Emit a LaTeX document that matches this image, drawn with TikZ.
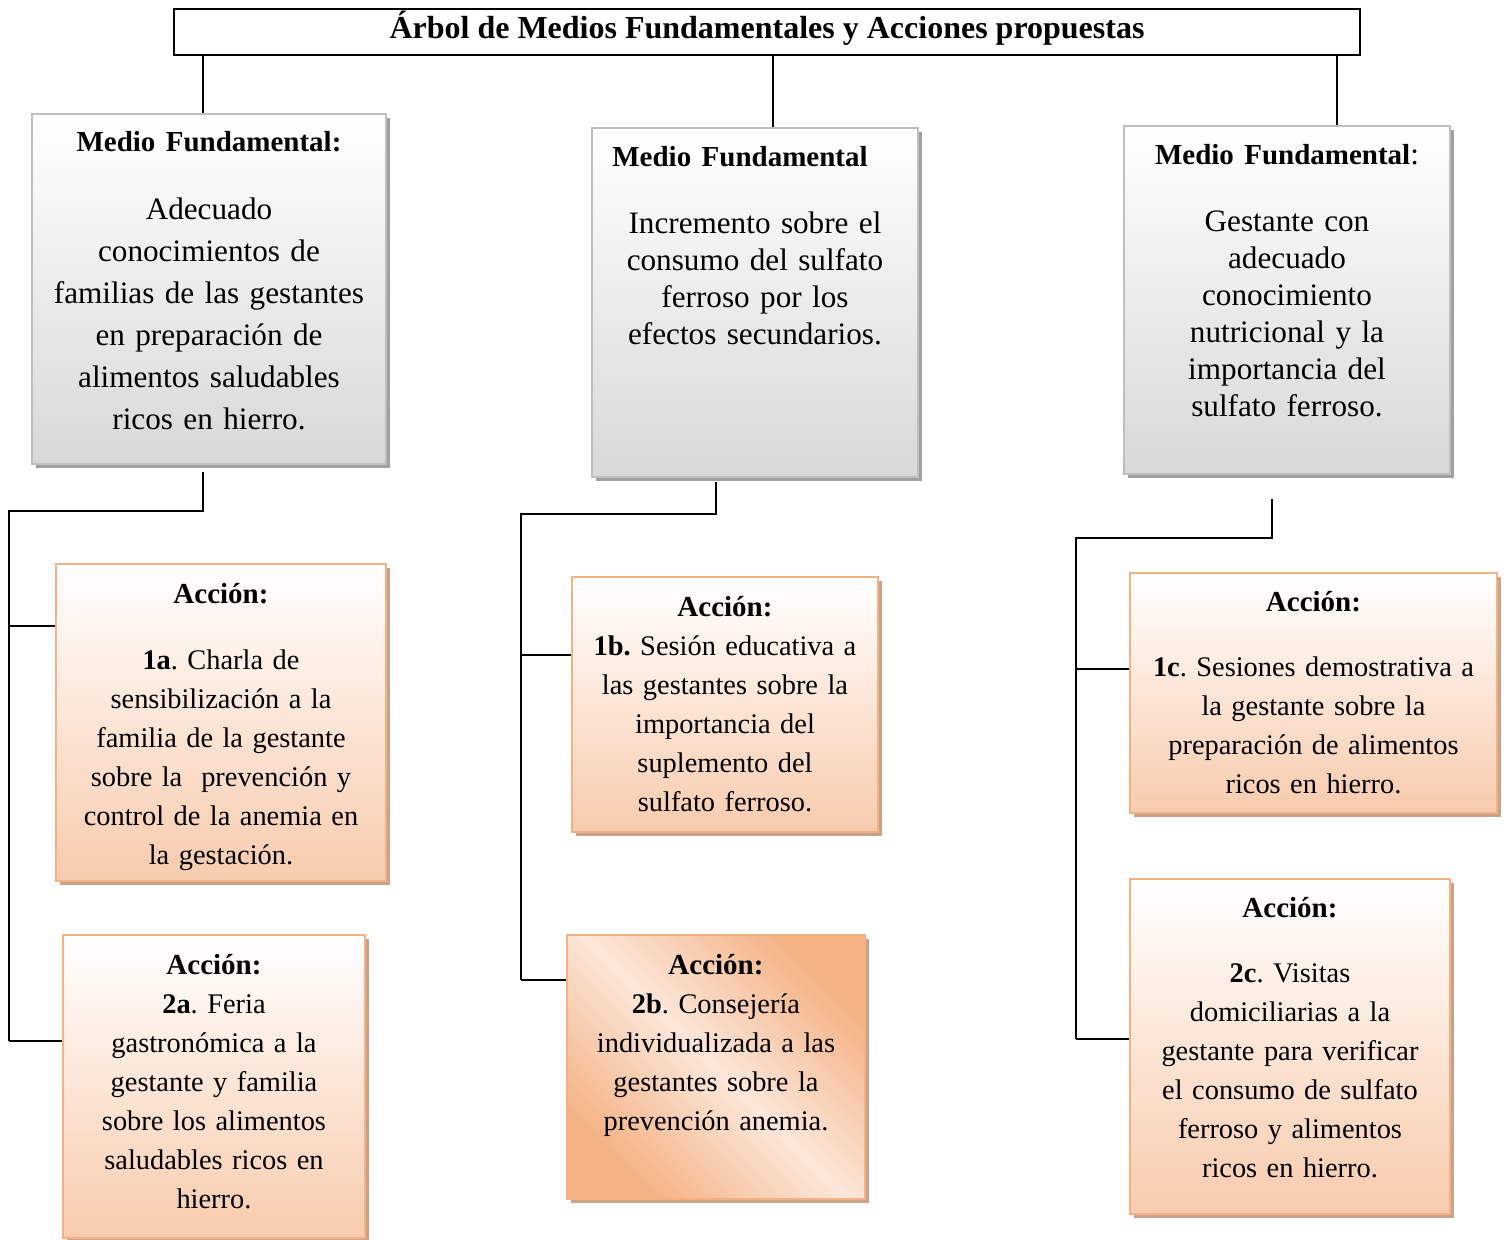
\documentclass[tikz,border=0pt]{standalone}
\usepackage{fontspec}
\setmainfont{Liberation Serif}
\usetikzlibrary{positioning, calc, shadows}
\frenchspacing

\definecolor{grisborde}{RGB}{191,191,191}
\definecolor{grisfondo}{RGB}{216,216,216}
\definecolor{grissombra}{RGB}{160,160,160}
\definecolor{naranjaborde}{RGB}{244,177,131}
\definecolor{naranjafondo}{RGB}{248,203,173}
\definecolor{naranjaclaro}{RGB}{252,231,218}
\definecolor{naranjasombra}{RGB}{200,162,138}

\newcommand{\titcaja}[1]{{\fontsize{14.5}{18}\selectfont\bfseries #1}}

\begin{document}
\begin{tikzpicture}[
    x=0.5pt, y=-0.5pt,
    caja/.style={
        rectangle,
        inner sep=0pt,
        anchor=north,
        align=center,
        line width=1pt
    },
    titulo/.style={
        rectangle,
        draw=black,
        line width=1pt,
        inner sep=0pt,
        minimum width=593pt,
        minimum height=23pt,
        text height=11.5pt,
        text depth=5.5pt,
        font=\fontsize{16}{19}\selectfont\bfseries
    },
    medio/.style={
        caja,
        draw=grisborde,
        top color=white,
        bottom color=grisfondo,
        drop shadow={shadow xshift=2pt, shadow yshift=-2pt, fill=grissombra, opacity=1}
    },
    accion/.style={
        caja,
        draw=naranjaborde,
        top color=white,
        bottom color=naranjafondo,
        font=\fontsize{14.2}{19.5}\selectfont,
        drop shadow={shadow xshift=2pt, shadow yshift=-2pt, fill=naranjasombra, opacity=1}
    },
    accionb/.style={
        accion,
        top color=naranjaborde,
        bottom color=naranjaborde,
        middle color=naranjaclaro,
        shading angle=-45
    },
    linea/.style={
        draw=black,
        line width=1pt
    }
]
\useasboundingbox (0,0) rectangle (1506,1239);

% ===== Título =====
\node[titulo] (titulo) at (767,32) {Árbol de Medios Fundamentales y Acciones propuestas};

% ===== Medios fundamentales =====
\node[medio, text width=177pt, text height=18.5pt, text depth=156.5pt, font=\fontsize{15.6}{21}\selectfont] (mf1) at (209,113)
    {\titcaja{Medio Fundamental:}\\[13pt] Adecuado\\ conocimientos de\\ familias de las gestantes\\ en preparación de\\ alimentos saludables\\ ricos en hierro.};
\node[medio, text width=163pt, text height=19pt, text depth=155.5pt, font=\fontsize{15.6}{18.5}\selectfont] (mf2) at (755,127)
    {\titcaja{Medio Fundamental}\rule{15pt}{0pt}\\[15pt] Incremento sobre el\\ consumo del sulfato\\ ferroso por los\\ efectos secundarios.};
\node[medio, text width=163pt, text height=19pt, text depth=155pt, font=\fontsize{15.6}{18.5}\selectfont] (mf3) at (1287,125)
    {\titcaja{Medio Fundamental}:\\[15pt] Gestante con\\ adecuado\\ conocimiento\\ nutricional y la\\ importancia del\\ sulfato ferroso.};

% ===== Acciones =====
\node[accion, text width=165pt, text height=19.5pt, text depth=139pt] (a1a) at (221,563)
    {\titcaja{Acción:}\\[13.5pt] \textbf{1a}. Charla de\\ sensibilización a la\\ familia de la gestante\\ sobre la \ prevención y\\ control de la anemia en\\ la gestación.};
\node[accion, text width=151pt, text height=19.5pt, text depth=132pt] (a2a) at (214,934)
    {\titcaja{Acción:}\\ \textbf{2a}. Feria\\ gastronómica a la\\ gestante y familia\\ sobre los alimentos\\ saludables ricos en\\ hierro.};
\node[accion, text width=153pt, text height=19.5pt, text depth=108pt] (a1b) at (725,576)
    {\titcaja{Acción:}\\ \textbf{1b.} Sesión educativa a\\ las gestantes sobre la\\ importancia del\\ suplemento del\\ sulfato ferroso.};
\node[accionb, text width=149pt, text height=19.5pt, text depth=112.5pt] (a2b) at (716,934)
    {\titcaja{Acción:}\\ \textbf{2b}. Consejería\\ individualizada a las\\ gestantes sobre la\\ prevención anemia.};
\node[accion, text width=183.5pt, text height=19pt, text depth=101pt] (a1c) at (1313.5,572)
    {\titcaja{Acción:}\\[13pt] \textbf{1c}. Sesiones demostrativa a\\ la gestante sobre la\\ preparación de alimentos\\ ricos en hierro.};
\node[accion, text width=160pt, text height=19pt, text depth=148.5pt] (a2c) at (1290,878)
    {\titcaja{Acción:}\\[13pt] \textbf{2c}. Visitas\\ domiciliarias a la\\ gestante para verificar\\ el consumo de sulfato\\ ferroso y alimentos\\ ricos en hierro.};

% ===== Puntos de unión =====
\coordinate (t1) at ([xshift=-3pt]mf1.north);
\coordinate (t2) at ([xshift=9pt]mf2.north);
\coordinate (t3) at ([xshift=25pt]mf3.north);
\coordinate (d1) at ([xshift=-3pt,yshift=-3.5pt]mf1.south);
\coordinate (d2) at ([xshift=-19.5pt,yshift=-2pt]mf2.south);
\coordinate (d3) at ([xshift=-7.5pt,yshift=-12pt]mf3.south);
\coordinate (s1) at (9,511);
\coordinate (s2) at (521,514);
\coordinate (s3) at (1076,538);
\coordinate (b1a) at ([yshift=-31.5pt]a1a.north west);
\coordinate (b2a) at ([yshift=-53.5pt]a2a.north west);
\coordinate (b1b) at ([yshift=-39.5pt]a1b.north west);
\coordinate (b2b) at ([yshift=-23pt]a2b.north west);
\coordinate (b1c) at ([yshift=-48.5pt]a1c.north west);
\coordinate (b2c) at ([yshift=-80.5pt]a2c.north west);

% ===== Conectores =====
\foreach \c in {t1,t2,t3} {
    \draw[linea] (titulo.south -| \c) -- (\c);
}
\foreach \d/\s/\u/\v in {d1/s1/b1a/b2a, d2/s2/b1b/b2b, d3/s3/b1c/b2c} {
    \draw[linea] (\d) |- (\s) -- (\s |- \v);
    \draw[linea] (\s |- \u) -- (\u);
    \draw[linea] (\s |- \v) -- (\v);
}

\end{tikzpicture}
\end{document}
